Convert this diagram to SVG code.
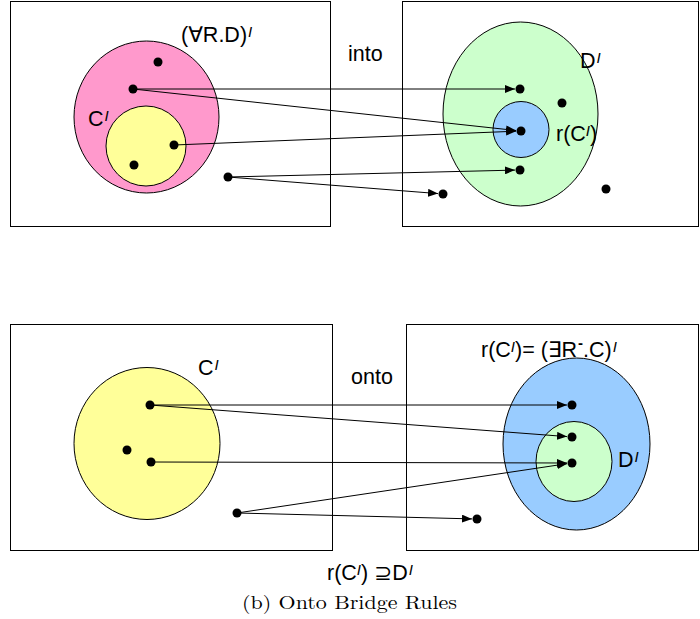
<svg xmlns="http://www.w3.org/2000/svg" width="700" height="619" viewBox="0 0 700 619">
  <style>
    .frame { fill: #ffffff; stroke: #000000; stroke-width: 1; }
    .set { stroke: #000000; stroke-width: 1; }
    .pink { fill: #ff99cc; }
    .yellow { fill: #ffff99; }
    .green { fill: #ccffcc; }
    .blue { fill: #99ccff; }
    .dot { fill: #000000; }
    .lbl { font-family: "Liberation Sans", "DejaVu Sans", Arial, sans-serif; font-size: 21.5px; fill: #000000; }
    .sup { font-style: italic; font-size: 15px; }
    .bar { font-size: 15px; font-weight: bold; }
    .caption { font-family: "Latin Modern Roman", "DejaVu Serif", "Liberation Serif", serif; font-size: 19px; fill: #000000; }
    .conn line { stroke: #000000; stroke-width: 1; marker-end: url(#arrow); }
  </style>
  <defs>
    <marker id="arrow" viewBox="0 0 10 8" refX="10" refY="4" markerWidth="10" markerHeight="8" markerUnits="userSpaceOnUse" orient="auto">
      <path d="M0,0 L10,4 L0,8 Z" fill="#000000"/>
    </marker>
  </defs>

  <!-- into: domain and range frames -->
  <g id="into-domain">
    <rect class="frame" x="10.5" y="1.5" width="320" height="225"/>
    <ellipse class="set pink" cx="146.5" cy="117" rx="72.5" ry="76"/>
    <circle class="set yellow" cx="146" cy="146" r="40"/>
    <circle class="dot" cx="158" cy="62" r="4.5"/>
    <circle class="dot" cx="133" cy="89" r="4.5"/>
    <circle class="dot" cx="174" cy="145" r="4.5"/>
    <circle class="dot" cx="134" cy="165" r="4.5"/>
    <circle class="dot" cx="228" cy="177" r="4.5"/>
    <text class="lbl" x="181" y="42">(∀R.D)<tspan class="sup" dx="1" dy="-5">I</tspan></text>
    <text class="lbl" x="88" y="126">C<tspan class="sup" dx="1" dy="-5">I</tspan></text>
  </g>
  <text id="into-label" class="lbl" x="348" y="61">into</text>
  <g id="into-range">
    <rect class="frame" x="402.5" y="1.5" width="296" height="225"/>
    <ellipse class="set green" cx="520.5" cy="114" rx="77.5" ry="92"/>
    <circle class="set blue" cx="521" cy="129.5" r="28"/>
    <circle class="dot" cx="520" cy="89" r="4.5"/>
    <circle class="dot" cx="521" cy="131" r="4.5"/>
    <circle class="dot" cx="520" cy="170" r="4.5"/>
    <circle class="dot" cx="562" cy="103" r="4.5"/>
    <circle class="dot" cx="443" cy="194" r="4.5"/>
    <circle class="dot" cx="606" cy="189" r="4.5"/>
    <text class="lbl" x="580" y="68">D<tspan class="sup" dx="1" dy="-5">I</tspan></text>
    <text class="lbl" x="556" y="141">r(C<tspan class="sup" dx="0" dy="-5">I</tspan><tspan dy="5">)</tspan></text>
  </g>

  <!-- onto: domain and range frames -->
  <g id="onto-domain">
    <rect class="frame" x="10.5" y="324.5" width="322" height="226"/>
    <ellipse class="set yellow" cx="147" cy="443.5" rx="73" ry="76"/>
    <circle class="dot" cx="150" cy="405" r="4.5"/>
    <circle class="dot" cx="127" cy="450" r="4.5"/>
    <circle class="dot" cx="151" cy="462" r="4.5"/>
    <circle class="dot" cx="237" cy="513" r="4.5"/>
    <text class="lbl" x="198" y="375">C<tspan class="sup" dx="1" dy="-5">I</tspan></text>
  </g>
  <text id="onto-label" class="lbl" x="351" y="384">onto</text>
  <g id="onto-range">
    <rect class="frame" x="406.5" y="324.5" width="292" height="226"/>
    <ellipse class="set blue" cx="576.5" cy="444" rx="73.5" ry="86"/>
    <ellipse class="set green" cx="574" cy="461.5" rx="38" ry="40"/>
    <circle class="dot" cx="572" cy="405" r="4.5"/>
    <circle class="dot" cx="572" cy="437" r="4.5"/>
    <circle class="dot" cx="572" cy="463" r="4.5"/>
    <circle class="dot" cx="477" cy="519" r="4.5"/>
    <text class="lbl" x="481" y="357">r(C<tspan class="sup" dx="0" dy="-5">I</tspan><tspan dy="5">)= (∃R</tspan><tspan class="bar" dx="1" dy="-9">-</tspan><tspan dy="9">.C)</tspan><tspan class="sup" dx="1" dy="-5">I</tspan></text>
    <text class="lbl" x="618" y="467">D<tspan class="sup" dx="1" dy="-5">I</tspan></text>
  </g>

  <!-- mapping arrows -->
  <g id="connectors" class="conn">
    <line x1="133" y1="89" x2="515" y2="89"/>
    <line x1="133" y1="89" x2="516" y2="130.5"/>
    <line x1="174" y1="145" x2="516" y2="131.2"/>
    <line x1="228" y1="177" x2="515" y2="170.1"/>
    <line x1="228" y1="177" x2="438" y2="193.6"/>
    <line x1="150" y1="405" x2="567" y2="405"/>
    <line x1="150" y1="405" x2="567" y2="436.6"/>
    <line x1="151" y1="462" x2="567" y2="463"/>
    <line x1="237" y1="513" x2="567" y2="463.7"/>
    <line x1="237" y1="513" x2="472" y2="518.9"/>
  </g>

  <text class="lbl" x="327" y="580">r(C<tspan class="sup" dx="0" dy="-5">I</tspan><tspan dy="5">) ⊇D</tspan><tspan class="sup" dx="1" dy="-5">I</tspan></text>
  <text class="caption" x="242" y="609" textLength="215" lengthAdjust="spacingAndGlyphs">(b) Onto Bridge Rules</text>
</svg>
